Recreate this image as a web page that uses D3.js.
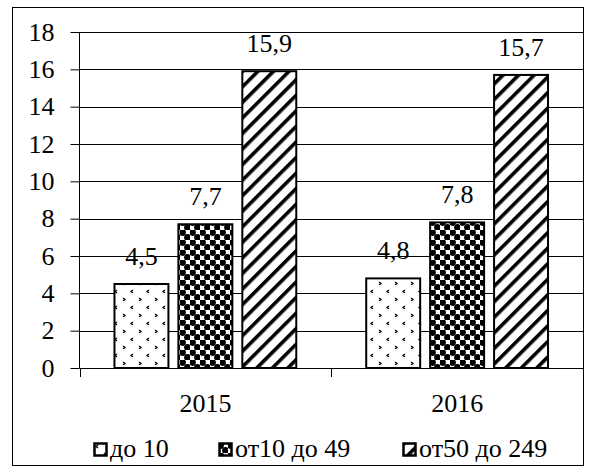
<!DOCTYPE html>
<html>
<head>
<meta charset="utf-8">
<script src="https://cdn.jsdelivr.net/npm/d3@7"></script>
<style>
  body { margin: 0; background: #fff; }
</style>
</head>
<body>
<svg id="chart" width="595" height="474"></svg>
<script>
var width = 595
var height = 474

// data
var years = ["2015", "2016"]
var groups = ["до 10", "от10 до 49", "от50 до 249"]
var val_small = [4.5, 4.8]
var val_mid = [7.7, 7.8]
var val_big = [15.9, 15.7]
var yTicks = [0, 2, 4, 6, 8, 10, 12, 14, 16, 18]

var series = [val_small, val_mid, val_big]
var patIds = ["pDots", "pCheck", "pStripe"]
var FONT = "Liberation Serif"
var FS = 26

var margin = {left: 79.5, right: 583, top: 32, bottom: 368}

var svg = d3.select("#chart")

var defs = svg.append("defs")

// dotted pattern
var pd = defs.append("pattern")
    .attr("id", "pDots")
    .attr("patternUnits", "userSpaceOnUse")
    .attr("width", 16).attr("height", 16)
pd.append("rect").attr("width", 16).attr("height", 16).attr("fill", "#fff")
pd.append("path").attr("d", "M5,2 L3,3.5 L5,5").attr("stroke", "#000").attr("stroke-width", 1.3).attr("fill", "none")
pd.append("path").attr("d", "M11,10 L13,11.5 L11,13").attr("stroke", "#000").attr("stroke-width", 1.3).attr("fill", "none")

// checker pattern with round blobs
var pc = defs.append("pattern")
    .attr("id", "pCheck")
    .attr("patternUnits", "userSpaceOnUse")
    .attr("width", 10).attr("height", 10)
pc.append("rect").attr("width", 10).attr("height", 10).attr("fill", "#fff")
pc.append("rect").attr("x", 0).attr("y", 0).attr("width", 5).attr("height", 5).attr("fill", "#000")
pc.append("rect").attr("x", 5).attr("y", 5).attr("width", 5).attr("height", 5).attr("fill", "#000")
pc.append("circle").attr("cx", 2.5).attr("cy", 2.5).attr("r", 3.4).attr("fill", "#000")
pc.append("circle").attr("cx", 7.5).attr("cy", 7.5).attr("r", 3.4).attr("fill", "#000")
pc.append("circle").attr("cx", 7.5).attr("cy", 2.5).attr("r", 1.3).attr("fill", "#fff")

// wide upward diagonal stripes
var ps = defs.append("pattern")
    .attr("id", "pStripe")
    .attr("patternUnits", "userSpaceOnUse")
    .attr("width", 11).attr("height", 11)
    .attr("patternTransform", "rotate(45)")
ps.append("rect").attr("width", 11).attr("height", 11).attr("fill", "#fff")
ps.append("rect").attr("x", 0).attr("y", 0).attr("width", 3.6).attr("height", 11).attr("fill", "#000")

// outer frame
svg.append("rect")
    .attr("x", 12.5).attr("y", 7.5)
    .attr("width", 571).attr("height", 458)
    .attr("fill", "none")
    .attr("stroke", "#000")
    .attr("stroke-width", 1)

var x0 = d3.scaleBand()
    .domain(years)
    .range([margin.left, margin.right])

var x1 = d3.scaleBand()
    .domain(d3.range(groups.length))
    .range([0, x0.bandwidth()])
    .paddingInner(0.156)
    .paddingOuter(0.547)

var y = d3.scaleLinear()
    .domain([0, 18])
    .range([margin.bottom, margin.top])

// grid
svg.append("g")
    .selectAll("line")
    .data(yTicks.slice(1))
    .enter()
    .append("line")
    .attr("x1", margin.left)
    .attr("x2", margin.right)
    .attr("y1", d => Math.round(y(d)) + 0.5)
    .attr("y2", d => Math.round(y(d)) + 0.5)
    .attr("stroke", "#000")
    .attr("stroke-width", 1)

// y axis
var yAxis = d3.axisLeft(y)
    .tickValues(yTicks)
    .tickSize(9)
    .tickPadding(16)
    .tickFormat(d3.format("d"))

var gy = svg.append("g")
    .attr("transform", "translate(" + margin.left + ",0)")
    .call(yAxis)
gy.attr("font-family", FONT).attr("font-size", FS)
gy.select(".domain").attr("stroke", "#000").attr("d", "M-0," + margin.top + "V" + margin.bottom)
gy.selectAll(".tick line").attr("stroke", "#000")
gy.selectAll(".tick text")
    .attr("font-family", FONT)
    .attr("font-size", FS)
    .attr("fill", "#000")

// bars
var gBars = svg.append("g")
series.forEach(function(vals, i){
    gBars.selectAll(".bar" + i)
        .data(vals)
        .enter()
        .append("rect")
        .attr("x", (d, j) => x0(years[j]) + x1(i))
        .attr("width", x1.bandwidth())
        .attr("y", d => y(d))
        .attr("height", d => y(0) - y(d))
        .attr("fill", "url(#" + patIds[i] + ")")
        .attr("stroke", "#000")
        .attr("stroke-width", 2)

    gBars.selectAll(".lab" + i)
        .data(vals)
        .enter()
        .append("text")
        .attr("x", (d, j) => x0(years[j]) + x1(i) + x1.bandwidth() / 2)
        .attr("y", d => y(d) - 19)
        .attr("text-anchor", "middle")
        .attr("font-family", FONT)
        .attr("font-size", FS)
        .text(d => d3.format(".1f")(d).replace(".", ","))
})

// x axis
svg.append("line")
    .attr("x1", margin.left).attr("x2", margin.right)
    .attr("y1", margin.bottom + 0.5).attr("y2", margin.bottom + 0.5)
    .attr("stroke", "#000").attr("stroke-width", 1)

svg.append("g")
    .selectAll("line")
    .data(years.concat(["end"]))
    .enter()
    .append("line")
    .attr("x1", (d, i) => Math.round(margin.left + i * x0.bandwidth()) + 0.5)
    .attr("x2", (d, i) => Math.round(margin.left + i * x0.bandwidth()) + 0.5)
    .attr("y1", margin.bottom)
    .attr("y2", margin.bottom + 9)
    .attr("stroke", "#000")

svg.append("g")
    .selectAll("text")
    .data(years)
    .enter()
    .append("text")
    .attr("x", d => x0(d) + x0.bandwidth() / 2)
    .attr("y", 412)
    .attr("text-anchor", "middle")
    .attr("font-family", FONT)
    .attr("font-size", FS)
    .text(d => d)

// legend
var legX = [93, 218, 402]
var leg = svg.append("g")
    .selectAll("g")
    .data(groups)
    .enter()
    .append("g")
    .attr("transform", (d, i) => "translate(" + legX[i] + ",443)")

leg.append("rect")
    .attr("x", 1.5).attr("y", 0.5)
    .attr("width", 12).attr("height", 12)
    .attr("fill", (d, i) => "url(#" + patIds[i] + ")")
    .attr("stroke", "#000")
    .attr("stroke-width", 2.5)

leg.append("text")
    .attr("x", 17)
    .attr("y", 14)
    .attr("font-family", FONT)
    .attr("font-size", FS)
    .text(d => d)
</script>
</body>
</html>
